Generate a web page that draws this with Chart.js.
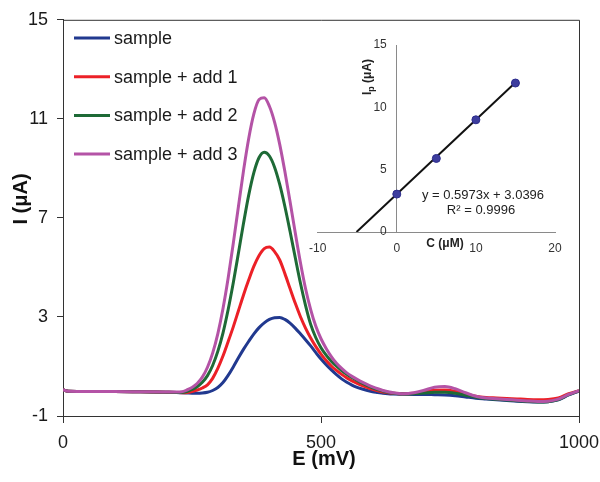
<!DOCTYPE html>
<html>
<head>
<meta charset="utf-8">
<script src="https://cdn.jsdelivr.net/npm/chart.js@4.4.1/dist/chart.umd.min.js"></script>
<style>
  html, body { margin: 0; padding: 0; background: #fff; }
  #wrap { position: relative; width: 600px; height: 482px; }
  #mainChart { position: absolute; left: 0; top: 0; }
  #insetChart { position: absolute; left: 300px; top: 20px; }
</style>
</head>
<body>
<div id="wrap">
  <canvas id="mainChart" width="600" height="482"></canvas>
  <canvas id="insetChart" width="290" height="250"></canvas>
</div>
<script>
const FONT = "'Liberation Sans', Arial, sans-serif";

// Potential (mV) sampled for every voltammogram
const potential = [0, 10, 50, 100, 150, 200, 220, 230,
  240, 250, 260, 270, 280, 290, 300, 310, 320, 330, 340, 350, 360, 370, 380, 390, 400,
  410, 420, 430, 440, 450, 460, 470, 480, 490, 500, 510, 520, 530, 540, 550, 560, 570,
  580, 590, 600, 610, 620, 630, 640,
  660, 680, 700, 720, 740, 760, 780, 800, 820, 840, 860, 880, 900, 920, 940, 960, 980, 1000];

// Current (µA)
const sample = [0.06, 0.0, -0.01, -0.01, -0.02, -0.04, -0.05, -0.06,
  -0.07, -0.08, -0.08, -0.07, -0.04, 0.03, 0.15, 0.35, 0.64, 0.98, 1.35, 1.70, 2.02, 2.32, 2.57, 2.76, 2.90,
  2.97, 2.98, 2.90, 2.75, 2.55, 2.32, 2.08, 1.83, 1.56, 1.30, 1.07, 0.86, 0.67, 0.50, 0.36, 0.25, 0.16,
  0.09, 0.03, -0.02, -0.05, -0.08, -0.10, -0.11,
  -0.12, -0.13, -0.13, -0.14, -0.15, -0.18, -0.23, -0.28, -0.31, -0.34, -0.37, -0.40, -0.42, -0.43, -0.42, -0.35, -0.15, 0.0];

const addOne = [0.06, 0.0, -0.01, -0.01, -0.02, -0.04, -0.05, -0.06,
  -0.05, -0.01, 0.05, 0.13, 0.26, 0.52, 0.92, 1.42, 2.00, 2.60, 3.25, 3.90, 4.50, 5.05, 5.48, 5.76, 5.82,
  5.64, 5.30, 4.75, 4.15, 3.56, 3.02, 2.55, 2.15, 1.80, 1.50, 1.24, 1.02, 0.84, 0.68, 0.54, 0.42, 0.32,
  0.23, 0.15, 0.08, 0.02, -0.03, -0.06, -0.08,
  -0.10, -0.08, -0.02, 0.04, 0.05, 0.00, -0.10, -0.20, -0.25, -0.27, -0.29, -0.31, -0.33, -0.34, -0.33, -0.27, -0.10, 0.02];

const addTwo = [0.06, 0.0, -0.01, -0.01, -0.02, -0.04, -0.05, -0.05,
  -0.01, 0.07, 0.18, 0.36, 0.63, 1.04, 1.61, 2.35, 3.29, 4.38, 5.58, 6.80, 7.93, 8.84, 9.44, 9.65, 9.50,
  9.05, 8.35, 7.46, 6.46, 5.41, 4.38, 3.47, 2.70, 2.16, 1.76, 1.46, 1.21, 1.01, 0.84, 0.69, 0.56, 0.44,
  0.33, 0.23, 0.14, 0.07, 0.01, -0.04, -0.08,
  -0.11, -0.10, -0.07, -0.04, -0.04, -0.08, -0.16, -0.24, -0.29, -0.32, -0.35, -0.38, -0.41, -0.43, -0.42, -0.34, -0.14, 0.01];

const addThree = [0.06, 0.0, -0.01, -0.01, -0.02, -0.03, -0.03, -0.02,
  0.05, 0.15, 0.31, 0.57, 0.97, 1.54, 2.32, 3.33, 4.56, 5.97, 7.46, 8.93, 10.22, 11.21, 11.78, 11.85, 11.51,
  10.87, 9.97, 8.87, 7.66, 6.41, 5.21, 4.15, 3.30, 2.62, 2.12, 1.73, 1.40, 1.13, 0.92, 0.74, 0.60, 0.48,
  0.37, 0.27, 0.18, 0.10, 0.03, -0.02, -0.06,
  -0.10, -0.06, 0.04, 0.16, 0.19, 0.10, -0.06, -0.20, -0.27, -0.30, -0.33, -0.36, -0.39, -0.41, -0.40, -0.32, -0.13, 0.02];

const seriesNames = ['sample', 'sample + add 1', 'sample + add 2', 'sample + add 3'];
const seriesValues = [sample, addOne, addTwo, addThree];
const seriesColors = ['#21398f', '#ec2027', '#1e6a36', '#b453a6'];

const eTicks = [0, 500, 1000];
const iTicks = [-1, 3, 7, 11, 15];

// Calibration (standard addition) inset
const concAdded = [0, 5, 10, 15];
const peakCurrent = [3.04, 5.9, 9.0, 11.95];
const fitSlope = 0.5973;
const fitIntercept = 3.0396;
const rSquared = 0.9996;
const cTicks = [-10, 0, 10, 20];
const ipTicks = [0, 5, 10, 15];

// frame on top/right, legend inside the plot, axis titles
const mainDecor = {
  id: 'mainDecor',
  afterDraw(chart) {
    const { ctx, chartArea: a } = chart;
    ctx.save();
    ctx.strokeStyle = '#333';
    ctx.lineWidth = 1;
    ctx.beginPath();
    ctx.moveTo(a.left, a.top + 0.5);
    ctx.lineTo(a.right + 0.5, a.top + 0.5);
    ctx.lineTo(a.right + 0.5, a.bottom);
    ctx.stroke();

    ctx.font = `18px ${FONT}`;
    ctx.textBaseline = 'middle';
    ctx.textAlign = 'left';
    seriesNames.forEach((name, i) => {
      const y = 38 + i * 38.7;
      ctx.strokeStyle = seriesColors[i];
      ctx.lineWidth = 3;
      ctx.beginPath();
      ctx.moveTo(74, y);
      ctx.lineTo(110, y);
      ctx.stroke();
      ctx.fillStyle = '#1a1a1a';
      ctx.fillText(name, 114, y + 1);
    });

    ctx.font = `bold 20px ${FONT}`;
    ctx.fillStyle = '#111';
    ctx.textAlign = 'center';
    ctx.fillText('E (mV)', 324, 459);
    ctx.translate(21, 199);
    ctx.rotate(-Math.PI / 2);
    ctx.fillText('I (μA)', 0, 0);
    ctx.restore();
  }
};

function buildMainChart() {
  const canvas = document.getElementById('mainChart');
  new Chart(canvas, {
    type: 'line',
    data: {
      datasets: seriesNames.map((name, i) => ({
        label: name,
        data: potential.map((e, k) => ({ x: e, y: seriesValues[i][k] })),
        borderColor: seriesColors[i],
        borderWidth: 3,
        pointRadius: 0,
        cubicInterpolationMode: 'monotone',
        fill: false,
        order: seriesNames.length - i
      }))
    },
    options: {
      responsive: false,
      animation: false,
      layout: { padding: { top: 19, right: 21, bottom: 0, left: 0 } },
      plugins: {
        legend: { display: false },
        tooltip: { enabled: false }
      },
      scales: {
        x: {
          type: 'linear',
          min: 0,
          max: 1000,
          afterBuildTicks: s => { s.ticks = eTicks.map(v => ({ value: v })); },
          // fixed height, and let the "1000" label hang into the right margin
          afterFit: s => { s.height = 66; s.paddingLeft = 0; s.paddingRight = 0; },
          grid: { drawOnChartArea: false, tickLength: 7, color: '#333' },
          border: { color: '#333' },
          ticks: {
            font: { family: FONT, size: 18 },
            color: '#1a1a1a',
            padding: 9,
            maxRotation: 0,
            autoSkip: false,
            callback: v => String(v)
          }
        },
        y: {
          min: -1,
          max: 15,
          afterBuildTicks: s => { s.ticks = iTicks.map(v => ({ value: v })); },
          afterFit: s => { s.width = 63; },
          grid: { drawOnChartArea: false, tickLength: 6, color: '#333' },
          border: { color: '#333' },
          ticks: { font: { family: FONT, size: 18 }, color: '#1a1a1a', padding: 9 }
        }
      }
    },
    plugins: [mainDecor]
  });
}

const insetText = {
  id: 'insetText',
  afterDraw(chart) {
    const { ctx } = chart;
    ctx.save();
    ctx.fillStyle = '#222';
    ctx.textAlign = 'center';
    ctx.textBaseline = 'middle';
    ctx.font = `13px ${FONT}`;
    ctx.fillText(`y = ${fitSlope}x + ${fitIntercept}`, 183, 175);
    ctx.fillText(`R² = ${rSquared}`, 181, 190);

    ctx.font = `bold 12px ${FONT}`;
    ctx.fillText('C (μM)', 145, 224);

    // I_p (µA) rotated, with subscript p
    ctx.translate(68, 57);
    ctx.rotate(-Math.PI / 2);
    const big = `bold 12px ${FONT}`;
    const small = `bold 9px ${FONT}`;
    ctx.font = big;
    const wI = ctx.measureText('I').width;
    const wRest = ctx.measureText(' (μA)').width;
    ctx.font = small;
    const wP = ctx.measureText('p').width;
    let x = -(wI + wP + wRest) / 2;
    ctx.textAlign = 'left';
    ctx.font = big;
    ctx.fillText('I', x, 0);
    x += wI;
    ctx.font = small;
    ctx.fillText('p', x, 4);
    x += wP;
    ctx.font = big;
    ctx.fillText(' (μA)', x, 0);
    ctx.restore();
  }
};

function buildInsetChart() {
  const canvas = document.getElementById('insetChart');
  const fitEnds = [-fitIntercept / fitSlope, concAdded[concAdded.length - 1]];
  new Chart(canvas, {
    type: 'scatter',
    data: {
      datasets: [
        {
          label: 'Ip',
          data: concAdded.map((c, k) => ({ x: c, y: peakCurrent[k] })),
          backgroundColor: '#3d3d9e',
          borderColor: '#2c2c8c',
          borderWidth: 1,
          pointRadius: 4,
          order: 0
        },
        {
          label: 'fit',
          data: fitEnds.map(c => ({ x: c, y: fitSlope * c + fitIntercept })),
          showLine: true,
          borderColor: '#111',
          borderWidth: 2,
          pointRadius: 0,
          order: 1
        }
      ]
    },
    options: {
      responsive: false,
      animation: false,
      layout: { padding: { left: 15, right: 35, top: 25, bottom: 0 } },
      plugins: {
        legend: { display: false },
        tooltip: { enabled: false }
      },
      scales: {
        x: {
          type: 'linear',
          min: -10,
          max: 20,
          position: 'bottom',
          afterBuildTicks: s => { s.ticks = cTicks.map(v => ({ value: v })); },
          afterFit: s => { s.height = 38; },
          grid: { display: false, drawTicks: false },
          border: { color: '#8a8a8a' },
          ticks: { font: { family: FONT, size: 12 }, color: '#333', padding: 9, maxRotation: 0, autoSkip: false }
        },
        y: {
          min: 0,
          max: 15,
          position: { x: 0 },
          afterBuildTicks: s => { s.ticks = ipTicks.map(v => ({ value: v })); },
          afterFit: s => { s.width = 0; },
          grid: { display: false, drawTicks: false },
          border: { color: '#8a8a8a' },
          // the axis sits at x = 0, so keep the labels clear of it
          ticks: { font: { family: FONT, size: 12 }, color: '#333', callback: v => v + '   ' }
        }
      }
    },
    plugins: [insetText]
  });
}

window.addEventListener('DOMContentLoaded', () => {
  buildMainChart();
  buildInsetChart();
});
</script>
</body>
</html>
